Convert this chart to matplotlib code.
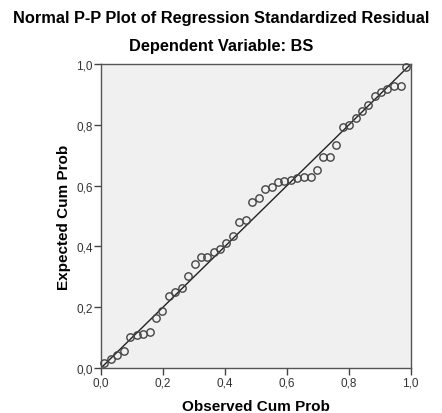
import matplotlib
matplotlib.use('Agg')
import matplotlib.pyplot as plt
from matplotlib.ticker import FuncFormatter

observed = [0.010, 0.031, 0.053, 0.074, 0.094, 0.115, 0.136, 0.158, 0.178, 0.198,
            0.219, 0.240, 0.260, 0.282, 0.302, 0.322, 0.343, 0.365, 0.385, 0.405,
            0.426, 0.447, 0.468, 0.489, 0.509, 0.529, 0.551, 0.572, 0.591, 0.613,
            0.634, 0.656, 0.677, 0.697, 0.718, 0.738, 0.759, 0.781, 0.800, 0.822,
            0.843, 0.862, 0.884, 0.905, 0.925, 0.946, 0.968, 0.986]
expected = [0.018, 0.031, 0.042, 0.056, 0.103, 0.108, 0.111, 0.120, 0.164, 0.187,
            0.236, 0.250, 0.265, 0.302, 0.344, 0.364, 0.367, 0.382, 0.392, 0.410,
            0.435, 0.482, 0.486, 0.546, 0.559, 0.588, 0.597, 0.612, 0.616, 0.619,
            0.624, 0.629, 0.629, 0.651, 0.693, 0.693, 0.734, 0.793, 0.799, 0.822,
            0.846, 0.867, 0.896, 0.909, 0.918, 0.927, 0.927, 0.992]
ticks = [0.0, 0.2, 0.4, 0.6, 0.8, 1.0]

plt.rcParams['font.family'] = ['Liberation Sans', 'DejaVu Sans']

fig = plt.figure(figsize=(4.42, 4.14), dpi=100)
ax = fig.add_axes([0.2285, 0.1087, 0.7006, 0.7337])
ax.set_facecolor('#f0f0f0')

ax.plot([0, 1], [0, 1], color='#222222', lw=1.0, zorder=2)
ax.plot(observed, expected, 'o', ms=5.3, mfc='none', mec='#444444', mew=1.0,
        zorder=3, clip_on=False)

ax.set_xlim(0, 1)
ax.set_ylim(0, 1)
ax.set_xticks(ticks)
ax.set_yticks(ticks)
fmt = FuncFormatter(lambda v, p: f'{v:.1f}'.replace('.', ','))
ax.xaxis.set_major_formatter(fmt)
ax.yaxis.set_major_formatter(fmt)
ax.tick_params(direction='out', length=5, width=1, color='#444444',
               labelsize=8.5, labelcolor='#333333', pad=1)

for s in ax.spines.values():
    s.set_color('#555555')
    s.set_linewidth(1.0)

ax.set_xlabel('Observed Cum Prob', fontsize=11, fontweight='bold', labelpad=8)
ax.set_ylabel('Expected Cum Prob', fontsize=11, fontweight='bold', labelpad=4)

fig.text(0.5, 1 - 19 / 414, 'Normal P-P Plot of Regression Standardized Residual',
         ha='center', va='center', fontsize=11.8, fontweight='bold')
fig.text(0.5, 1 - 47 / 414, 'Dependent Variable: BS',
         ha='center', va='center', fontsize=11.8, fontweight='bold')

fig.savefig('out.png', dpi=100)
